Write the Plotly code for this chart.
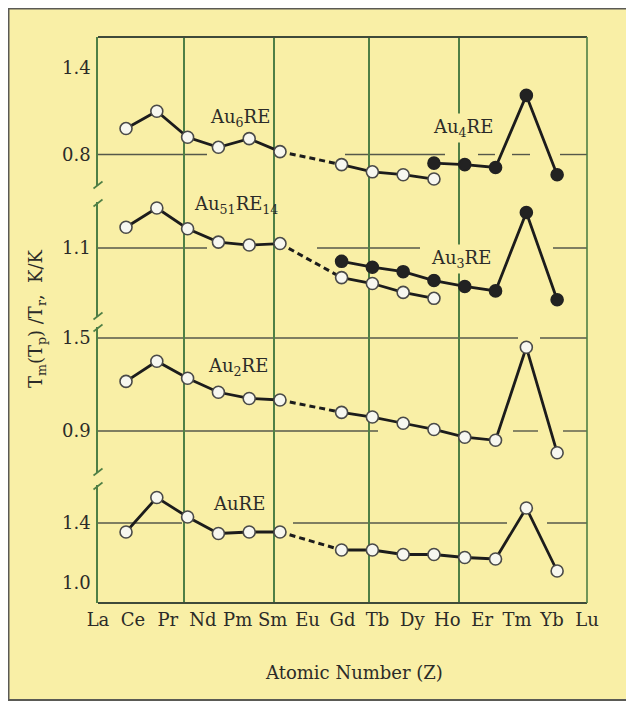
import plotly.graph_objects as go

# ---------------- data ----------------
elements = ["La", "Ce", "Pr", "Nd", "Pm", "Sm", "Eu", "Gd", "Tb", "Dy", "Ho", "Er", "Tm", "Yb", "Lu"]
atomic_z = list(range(57, 72))

# panel 1
au6re = [0.98, 1.10, 0.92, 0.85, 0.91, 0.82, None, 0.73, 0.68, 0.66, 0.63, None, None, None, None]
au4re = [None, None, None, None, None, None, None, None, None, None, 0.74, 0.73, 0.71, 1.21, 0.66]
# panel 2
au51re14 = [1.24, 1.37, 1.23, 1.14, 1.12, 1.13, None, 0.90, 0.86, 0.80, 0.76, None, None, None, None]
au3re = [None, None, None, None, None, None, None, 1.01, 0.97, 0.94, 0.88, 0.84, 0.81, 1.34, 0.75]
# panel 3
au2re = [1.22, 1.35, 1.24, 1.15, 1.11, 1.10, None, 1.02, 0.99, 0.95, 0.91, 0.86, 0.84, 1.44, 0.76]
# panel 4
aure = [1.34, 1.57, 1.44, 1.33, 1.34, 1.34, None, 1.22, 1.22, 1.19, 1.19, 1.17, 1.16, 1.50, 1.08]

panel_ticks = {
    "y": [0.8, 1.4],
    "y2": [1.1],
    "y3": [0.9, 1.5],
    "y4": [1.0, 1.4],
}

# ---------------- style ----------------
FONT = "DejaVu Serif"
FS = 18
TXT = "#2b2b28"
LINE = "#1c1c1c"
BG = "#F9EFA6"
VGRID = "#4f7f45"
HGRID = "#56584a"

fig = go.Figure()

sm = elements.index("Sm")
gd = elements.index("Gd")


def add_series(vals, yref, filled):
    xs = atomic_z
    if vals[sm] is not None and vals[gd] is not None:
        fig.add_trace(go.Scatter(
            x=[xs[sm], xs[gd]], y=[vals[sm], vals[gd]], yaxis=yref, mode="lines",
            line=dict(color=LINE, width=3, dash="6px,4px"), hoverinfo="skip", showlegend=False))
    fig.add_trace(go.Scatter(
        x=xs, y=vals, yaxis=yref, mode="lines+markers", connectgaps=False,
        line=dict(color=LINE, width=2.8),
        marker=dict(symbol="circle", size=12,
                    color=("#222222" if filled else "#f7f7f0"),
                    line=dict(color=("#222222" if filled else "#4a4a48"), width=1.6)),
        showlegend=False, hoverinfo="skip"))


add_series(au6re, "y", False)
add_series(au4re, "y", True)
add_series(au51re14, "y2", False)
add_series(au3re, "y2", True)
add_series(au2re, "y3", False)
add_series(aure, "y4", False)

# carrier trace for the element-name axis (no visible marks)
fig.add_trace(go.Scatter(x=list(range(len(elements))), y=[None] * len(elements),
                         xaxis="x2", yaxis="y4", mode="markers", hoverinfo="skip",
                         showlegend=False))

# ---------------- layout geometry ----------------
OFF = 8  # page body margin offset
W, H = 634 - OFF, 705 - OFF
L, R, T, B = 98, 587, 37, 603   # plot area in page pixels
pw, ph = R - L, B - T


def py(pix):
    return (B - pix) / ph


def px(pix):
    return (pix - L) / pw


domains = {
    "y": [py(194), 1.0],
    "y2": [py(322), py(194)],
    "y3": [py(479), py(322)],
    "y4": [0.0, py(479)],
}
ranges = {
    "y": [0.5262, 1.615],
    "y2": [0.60, 1.4649],
    "y3": [0.5903, 1.6032],
    "y4": [0.8667, 1.6933],
}

tickfont = dict(family=FONT, size=FS, color=TXT)


def yaxis_cfg(key):
    return dict(
        domain=domains[key], range=ranges[key], anchor="x",
        tickmode="array", tickvals=panel_ticks[key], ticktext=[f"{v:.1f}" for v in panel_ticks[key]],
        showgrid=False, zeroline=False, ticks="", tickfont=tickfont,
        showline=True, linecolor=VGRID, linewidth=1.6,
        ticklabelstandoff=2,
    )


fig.update_layout(
    width=W, height=H,
    margin=dict(l=L - OFF, r=(634 - R), t=T - OFF, b=(705 - B), pad=0),
    paper_bgcolor="white",
    plot_bgcolor="rgba(0,0,0,0)",
    showlegend=False,
    xaxis=dict(
        domain=[0, 1], range=[56.09, 71.97], anchor="y4",
        showticklabels=False, showgrid=False, zeroline=False, ticks="", showline=False,
        minor=dict(tickmode="array", tickvals=[58.88, 61.8, 64.89, 67.81], showgrid=True,
                   gridcolor=VGRID, gridwidth=1.6, ticks=""),
    ),
    xaxis2=dict(
        overlaying="x", anchor="y4", side="bottom", range=[0, 14],
        tickmode="array", tickvals=list(range(len(elements))), ticktext=elements,
        showgrid=False, zeroline=False, showline=False, ticks="", tickfont=tickfont,
        ticklabelstandoff=4,
    ),
    yaxis=yaxis_cfg("y"),
    yaxis2=yaxis_cfg("y2"),
    yaxis3=yaxis_cfg("y3"),
    yaxis4=yaxis_cfg("y4"),
)

shapes = []
shapes.append(dict(type="rect", xref="paper", yref="paper",
                   x0=px(8.5), x1=px(630), y0=py(700), y1=py(8.5),
                   fillcolor=BG, line=dict(color="#5a5a55", width=2), layer="below"))

# broken horizontal rules (segments in page pixels along x, at a value of each panel axis)
hrules = [
    ("y", 0.8, [(98, 207), (345, 445), (478, 495), (512, 530), (560, 587)]),
    ("y2", 1.1, [(98, 207), (317, 420), (553, 587)]),
    ("y3", 1.5, [(98, 518), (540, 587)]),
    ("y3", 0.9, [(98, 378), (513, 538), (563, 587)]),
    ("y4", 1.4, [(98, 182), (293, 507), (547, 587)]),
]
for yref, val, segs in hrules:
    for a, b in segs:
        shapes.append(dict(type="line", xref="paper", yref=yref, x0=px(a), x1=px(b), y0=val, y1=val,
                           line=dict(color=HGRID, width=1.4), layer="below"))

shapes.append(dict(type="line", xref="paper", yref="paper", x0=0, x1=1, y0=1, y1=1,
                   line=dict(color="#3f4a3a", width=1.8)))
shapes.append(dict(type="line", xref="paper", yref="paper", x0=0, x1=1, y0=0, y1=0,
                   line=dict(color="#3f4a3a", width=1.8)))
shapes.append(dict(type="line", xref="paper", yref="paper", x0=1, x1=1, y0=0, y1=1,
                   line=dict(color=VGRID, width=1.6)))
for top, bot in [(185, 203), (316, 328), (472, 486)]:
    shapes.append(dict(type="rect", xref="paper", yref="paper",
                       xsizemode="pixel", xanchor=0, x0=-2.5, x1=2.5,
                       y0=py(bot - 1), y1=py(top + 1),
                       fillcolor=BG, line=dict(width=0), layer="above"))
    for yy in (top, bot):
        shapes.append(dict(type="line", xref="paper", yref="paper",
                           xsizemode="pixel", xanchor=0, x0=-4.5, x1=4.5,
                           ysizemode="pixel", yanchor=py(yy), y0=-3.5, y1=3.5,
                           line=dict(color=VGRID, width=1.6), layer="above"))
fig.update_layout(shapes=shapes)

lab = dict(family=FONT, size=FS, color=TXT)
annotations = [
    dict(text="Au<sub>6</sub>RE", x=59.63, y=1.053, xref="x", yref="y"),
    dict(text="Au<sub>4</sub>RE", x=66.87, y=0.984, xref="x", yref="y", bgcolor=BG),
    dict(text="Au<sub>51</sub>RE<sub>14</sub>", x=59.11, y=1.39, xref="x", yref="y2"),
    dict(text="Au<sub>3</sub>RE", x=66.80, y=1.026, xref="x", yref="y2", bgcolor=BG),
    dict(text="Au<sub>2</sub>RE", x=59.56, y=1.313, xref="x", yref="y3"),
    dict(text="AuRE", x=59.73, y=1.533, xref="x", yref="y4"),
]
for a in annotations:
    a.update(showarrow=False, xanchor="left", yanchor="middle", font=lab, borderpad=2)
annotations.append(dict(text="Atomic Number (Z)", x=px(354), y=py(672), xref="paper", yref="paper",
                        showarrow=False, xanchor="center", yanchor="middle", font=lab))
annotations.append(dict(text="T<sub>m</sub>(T<sub>p</sub>) /T<sub>r</sub>,  K/K", x=px(37), y=py(319),
                        xref="paper", yref="paper", textangle=-90,
                        showarrow=False, xanchor="center", yanchor="middle", font=lab))
fig.update_layout(annotations=annotations)

fig.write_html("out.html")
